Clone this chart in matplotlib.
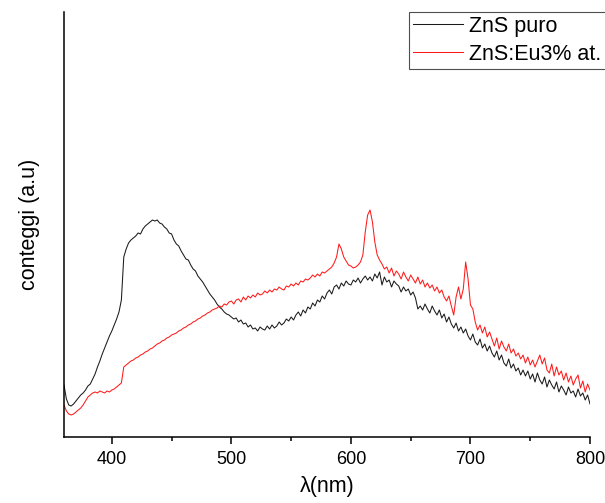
import numpy as np
import matplotlib
matplotlib.use("Agg")
import matplotlib.pyplot as plt
from matplotlib.ticker import MultipleLocator

plt.rcParams['font.family'] = ['Liberation Sans', 'DejaVu Sans']

# Wavelength sampling (nm)
wavelength = np.arange(360, 801, 2)

# Photoluminescence counts (arbitrary units), pure ZnS
zns_puro = [
    52, 38, 32, 31, 33, 36, 39, 42, 44, 47,
    51, 53, 58, 63, 70, 76, 83, 89, 95, 101,
    106, 112, 118, 125, 137, 180, 188, 194, 197, 199,
    201, 204, 203, 208, 211, 213, 215, 217, 216, 217,
    214, 213, 210, 208, 204, 203, 197, 193, 191, 186,
    182, 178, 177, 172, 168, 166, 161, 158, 155, 151,
    147, 143, 140, 137, 133, 130, 128, 125, 123, 122,
    120, 118, 119, 115, 117, 113, 114, 110, 112, 108,
    109, 106, 110, 108, 107, 111, 108, 112, 109, 111,
    115, 112, 114, 118, 116, 120, 117, 122, 125, 121,
    127, 124, 130, 128, 134, 131, 137, 135, 141, 138,
    144, 147, 143, 150, 152, 148, 154, 151, 156, 153,
    152, 157, 155, 159, 154, 158, 161, 157, 160, 156,
    163, 159, 165, 152, 160, 155, 157, 150, 156, 153,
    151, 145, 150, 146, 148, 142, 145, 139, 128, 131,
    127, 133, 128, 124, 131, 126, 122, 127, 119, 123,
    115, 120, 113, 109, 114, 106, 110, 104, 108, 101,
    97, 103, 95, 92, 98, 89, 93, 86, 91, 84,
    80, 86, 77, 82, 74, 71, 78, 69, 73, 66,
    69, 62, 67, 61, 66, 58, 63, 55, 64, 57,
    53, 60, 50, 57, 52, 48, 55, 45, 51, 47,
    42, 50, 44, 46, 40, 48, 41, 44, 37, 42, 33,
]

# Photoluminescence counts (arbitrary units), ZnS doped with 3 at.% Eu
zns_eu = [
    32, 26, 23, 22, 23, 25, 27, 29, 32, 36,
    40, 42, 44, 45, 44, 46, 45, 44, 46, 45,
    47, 48, 50, 52, 54, 70, 72, 74, 76, 77,
    79, 80, 82, 83, 85, 86, 88, 89, 91, 93,
    94, 96, 97, 99, 100, 102, 103, 104, 106, 107,
    109, 110, 112, 113, 115, 116, 118, 119, 121, 122,
    124, 125, 127, 128, 129, 131, 130, 133, 132, 135,
    136, 133, 137, 138, 135, 140, 137, 141, 139, 142,
    140, 144, 142, 143, 146, 144, 147, 145, 148, 147,
    150, 148, 147, 151, 150, 153, 151, 154, 152, 156,
    155, 158, 157, 159, 162, 160, 163, 161, 165, 164,
    166, 168, 170, 174, 180, 193, 188, 180, 176, 172,
    171, 169, 170, 172, 175, 182, 205, 222, 227, 215,
    195, 182, 177, 173, 168, 170, 164, 169, 161, 166,
    163, 158, 165, 160, 156, 162, 158, 154, 160, 153,
    157, 150, 154, 149, 152, 146, 150, 144, 147, 140,
    136, 141, 131, 122, 140, 150, 138, 148, 175, 158,
    132, 128, 115, 107, 112, 104, 110, 100, 105, 98,
    91, 99, 88, 96, 90, 86, 93, 84, 88, 81,
    84, 78, 82, 74, 80, 72, 77, 70, 76, 82,
    73, 79, 67, 64, 73, 61, 70, 62, 66, 57,
    64, 55, 61, 52, 58, 62, 49, 56, 45, 53, 47,
]

labels = ["ZnS puro", "ZnS:Eu3% at."]

fig = plt.figure(figsize=(6.05, 5.03), dpi=100)
ax = fig.add_axes([64 / 605, 66 / 503, 526 / 605, 425 / 503])

ax.plot(wavelength, zns_puro, color="#1a1a1a", lw=0.75, label=labels[0])
ax.plot(wavelength, zns_eu, color="#ff1a1a", lw=0.75, label=labels[1])

ax.set_xlim(360, 800)
ax.set_ylim(0, 425)

for side in ("top", "right"):
    ax.spines[side].set_visible(False)
for side in ("left", "bottom"):
    ax.spines[side].set_linewidth(1.1)

ax.set_yticks([])
ax.xaxis.set_major_locator(MultipleLocator(100))
ax.xaxis.set_minor_locator(MultipleLocator(50))
ax.tick_params(axis="x", which="major", direction="out", length=5, width=1.1,
               labelsize=13, pad=5)
ax.tick_params(axis="x", which="minor", direction="out", length=2.7, width=1.1)

ax.set_xlabel("λ(nm)", fontsize=15.5, labelpad=6)
ax.set_ylabel("conteggi (a.u)", fontsize=15.5, labelpad=17)

leg = fig.legend(loc="upper left", bbox_to_anchor=(409 / 605, 1 - 11.5 / 503),
                 fontsize=15.5, frameon=True, fancybox=False,
                 handlelength=2.3, handletextpad=0.3, borderpad=0.2,
                 labelspacing=0.33, borderaxespad=0)
leg.get_frame().set_edgecolor("#222222")
leg.get_frame().set_linewidth(0.8)

fig.savefig("out.png", dpi=100)
